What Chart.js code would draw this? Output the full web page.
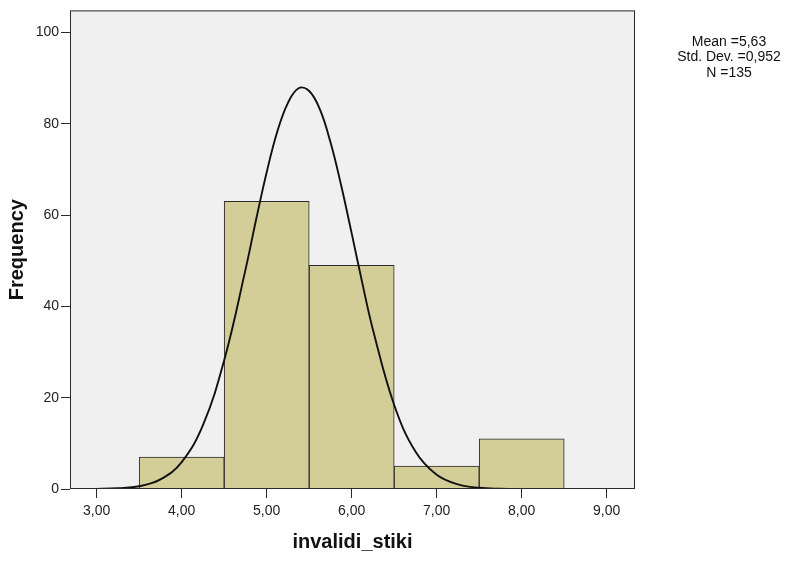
<!DOCTYPE html>
<html>
<head>
<meta charset="utf-8">
<script src="https://cdn.jsdelivr.net/npm/chart.js@4.4.1/dist/chart.umd.min.js"></script>
<style>
  body { margin: 0; background: #fff; }
  #wrap { width: 796px; height: 562px; }
</style>
</head>
<body>
<div id="wrap"><canvas id="hist" width="796" height="562"></canvas></div>
<script>
// histogram bins (centre of each bin) and counts
var binCentres = [4, 5, 6, 7, 8];
var binCounts = [7, 63, 49, 5, 11];

// normal curve
var curveX = [2.75, 3.0, 3.25, 3.5, 3.75, 4.0, 4.25, 4.5, 4.75, 4.875, 5.0, 5.125, 5.25, 5.375, 5.5, 5.625, 5.75, 5.875, 6.0, 6.125, 6.25, 6.5, 6.75, 7.0, 7.25, 7.5, 7.75, 8.0, 8.25];
var curveY = [0, 0.03, 0.16, 0.6, 2.1, 5.9, 14, 28.2, 48, 59, 69.4, 78.3, 84.6, 87.8, 87.2, 83.2, 76, 66.6, 56, 45.1, 34.9, 18.4, 8.2, 3.1, 1, 0.26, 0.06, 0.01, 0];

var xTicks = [3, 4, 5, 6, 7, 8, 9];
var yTicks = [0, 20, 40, 60, 80, 100];
var statLines = ["Mean =5,63", "Std. Dev. =0,952", "N =135"];

var FONT = "'Liberation Sans', Arial, sans-serif";

var plotFrame = {
  id: "plotFrame",
  beforeDatasetsDraw: function (chart) {
    var a = chart.chartArea, ctx = chart.ctx;
    ctx.save();
    ctx.fillStyle = "#f0f0f0";
    ctx.fillRect(a.left, a.top, a.right - a.left, a.bottom - a.top);
    ctx.restore();
  },
  afterDraw: function (chart) {
    var a = chart.chartArea, ctx = chart.ctx;
    ctx.save();
    ctx.strokeStyle = "#2a2a2a";
    ctx.lineWidth = 1;
    ctx.strokeRect(a.left + 0.5, a.top + 0.5, a.right - a.left - 1, a.bottom - a.top - 1);
    ctx.fillStyle = "#111";
    ctx.font = "14px " + FONT;
    ctx.textAlign = "center";
    ctx.textBaseline = "middle";
    statLines.forEach(function (s, i) {
      ctx.fillText(s, 729, 42 + i * 15.5);
    });
    ctx.restore();
  }
};

new Chart(document.getElementById("hist"), {
  data: {
    datasets: [{
      type: "line",
      data: curveX.map(function (x, i) { return { x: x, y: curveY[i] }; }),
      borderColor: "#111",
      borderWidth: 1.9,
      pointRadius: 0,
      tension: 0.4,
      fill: false,
      order: 0
    }, {
      type: "bar",
      data: binCentres.map(function (x, i) { return { x: x, y: binCounts[i] }; }),
      backgroundColor: "#d3ce97",
      borderColor: "#2a2a2a",
      borderWidth: 1,
      barPercentage: 1,
      categoryPercentage: 1,
      grouped: false,
      order: 1
    }]
  },
  plugins: [plotFrame],
  options: {
    responsive: false,
    animation: false,
    layout: { padding: { left: 1, right: 161, top: 7, bottom: 4 } },
    plugins: { legend: { display: false }, tooltip: { enabled: false } },
    scales: {
      x: {
        type: "linear",
        offset: false,
        min: 2.686,
        max: 9.333,
        afterBuildTicks: function (s) { s.ticks = xTicks.map(function (v) { return { value: v }; }); },
        afterFit: function (s) { s.height = 69; },
        grid: { offset: false, drawOnChartArea: false, drawTicks: true, tickLength: 9, color: "#2a2a2a" },
        border: { display: false },
        ticks: {
          padding: 5,
          color: "#222",
          font: { family: FONT, size: 14 },
          maxRotation: 0,
          callback: function (v) { return v.toFixed(2).replace(".", ","); }
        },
        title: { display: true, text: "invalidi_stiki", color: "#111", padding: { top: 4, bottom: 4 }, font: { family: FONT, size: 20, weight: "bold" } }
      },
      y: {
        min: 0,
        max: 104.85,
        afterBuildTicks: function (s) { s.ticks = yTicks.map(function (v) { return { value: v }; }); },
        afterFit: function (s) { s.width = 69; },
        grid: { drawOnChartArea: false, drawTicks: true, tickLength: 9, color: "#2a2a2a" },
        border: { display: false },
        ticks: { padding: 2, color: "#222", font: { family: FONT, size: 14 } },
        title: { display: true, text: "Frequency", color: "#111", font: { family: FONT, size: 20, weight: "bold" } }
      }
    }
  }
});
</script>
</body>
</html>
